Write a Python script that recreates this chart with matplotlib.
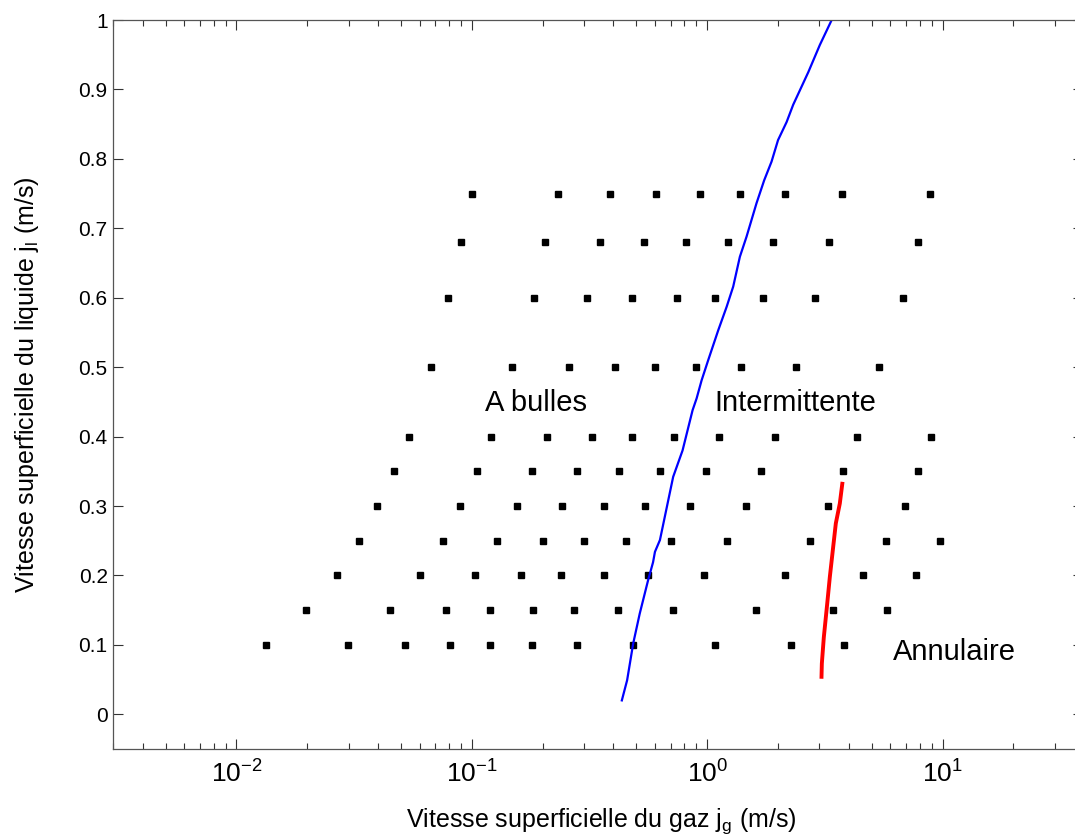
import matplotlib
matplotlib.use("Agg")
import matplotlib.pyplot as plt
import numpy as np

plt.rcParams['font.family'] = ['Liberation Sans', 'DejaVu Sans']
plt.rcParams['mathtext.default'] = 'regular'
plt.rcParams['mathtext.fontset'] = 'custom'
plt.rcParams['mathtext.rm'] = 'Liberation Sans'
plt.rcParams['axes.unicode_minus'] = False

# Experimental points: superficial gas velocity (m/s) for each liquid velocity row
jl_rows = [0.10, 0.15, 0.20, 0.25, 0.30, 0.35, 0.40, 0.50, 0.60, 0.68, 0.75]
jg_010 = [0.0133, 0.0297, 0.0518, 0.0806, 0.1197, 0.180, 0.280, 0.485, 1.075, 2.26, 3.82]
jg_015 = [0.0198, 0.0448, 0.0775, 0.120, 0.1816, 0.2714, 0.419, 0.717, 1.614, 3.43, 5.82]
jg_020 = [0.0267, 0.0603, 0.1033, 0.1615, 0.2395, 0.363, 0.561, 0.971, 2.145, 4.59, 7.71]
jg_025 = [0.0332, 0.0751, 0.1285, 0.201, 0.301, 0.454, 0.703, 1.216, 2.73, 5.75, 9.77]
jg_030 = [0.0397, 0.0892, 0.155, 0.242, 0.363, 0.545, 0.844, 1.455, 3.26, 6.92]
jg_035 = [0.0468, 0.105, 0.181, 0.280, 0.422, 0.630, 0.984, 1.69, 3.76, 7.86]
jg_040 = [0.0541, 0.1205, 0.2084, 0.323, 0.479, 0.724, 1.121, 1.94, 4.33, 8.90]
jg_050 = [0.0668, 0.148, 0.259, 0.404, 0.600, 0.896, 1.392, 2.38, 5.35]
jg_060 = [0.0796, 0.184, 0.309, 0.479, 0.741, 1.075, 1.727, 2.88, 6.81]
jg_068 = [0.0902, 0.204, 0.349, 0.540, 0.815, 1.225, 1.897, 3.28, 7.85]
jg_075 = [0.100, 0.233, 0.387, 0.604, 0.934, 1.38, 2.14, 3.74, 8.83]
jg_rows = [jg_010, jg_015, jg_020, jg_025, jg_030, jg_035, jg_040,
           jg_050, jg_060, jg_068, jg_075]

# Transition bubbly -> intermittent (blue)
blue_jg = [0.434, 0.457, 0.485, 0.517, 0.561, 0.589, 0.600, 0.630, 0.717, 0.786,
           0.867, 0.902, 0.947, 1.01, 1.114, 1.21, 1.29, 1.377, 1.47, 1.62,
           1.746, 1.877, 2.00, 2.175, 2.32, 2.44, 2.69, 3.01, 3.38]
blue_jl = [0.020, 0.049, 0.102, 0.145, 0.193, 0.219, 0.234, 0.251, 0.342, 0.380,
           0.438, 0.455, 0.481, 0.510, 0.553, 0.587, 0.616, 0.659, 0.688, 0.736,
           0.769, 0.796, 0.827, 0.853, 0.878, 0.894, 0.925, 0.964, 1.0]

# Transition intermittent -> annular (red)
red_jg = [3.06, 3.07, 3.13, 3.236, 3.32, 3.43, 3.52, 3.66, 3.75]
red_jl = [0.054, 0.073, 0.111, 0.1595, 0.198, 0.241, 0.275, 0.3036, 0.332]

regions = ["A bulles", "Intermittente", "Annulaire"]
region_x = [0.1135, 1.078, 6.15]
region_y = [0.448, 0.448, 0.089]

yticks = [0, 0.1, 0.2, 0.3, 0.4, 0.5, 0.6, 0.7, 0.8, 0.9, 1]
ytick_labels = ["0", "0.1", "0.2", "0.3", "0.4", "0.5", "0.6", "0.7", "0.8", "0.9", "1"]

W, H = 1075, 840
x0_px, x1_px, ytop_px, ybot_px = 113.3, 1083, 20, 749
fig = plt.figure(figsize=(W / 100, H / 100), dpi=100)
ax = fig.add_axes([x0_px / W, 1 - ybot_px / H, (x1_px - x0_px) / W, (ybot_px - ytop_px) / H])

for jl, jgs in zip(jl_rows, jg_rows):
    ax.plot(jgs, [jl] * len(jgs), linestyle='none', marker='s', ms=5,
            color='black', mec='black')

ax.plot(blue_jg, blue_jl, color='#0000ff', lw=1.6)
ax.plot(red_jg, red_jl, color='#ff0000', lw=2.8)

for t, x, y in zip(regions, region_x, region_y):
    ax.text(x, y, t, fontsize=21, color='black', ha='left', va='center')

ax.set_xscale('log')
ax.set_xlim(0.003, 39.5)
ax.set_ylim(-0.05, 1)
ax.set_yticks(yticks)
ax.set_yticklabels(ytick_labels)

ax.tick_params(axis='both', which='both', direction='in', top=True, right=True,
               color='#333333')
ax.tick_params(axis='both', which='major', length=7, width=0.8)
ax.tick_params(axis='y', labelsize=15, pad=4)
ax.tick_params(axis='x', labelsize=19, pad=8)
ax.tick_params(axis='x', which='minor', length=4, width=0.8)
for s in ax.spines.values():
    s.set_color('#555555')
    s.set_linewidth(0.9)

ax.set_xlabel(r"Vitesse superficielle du gaz j$_{g}$ (m/s)", fontsize=18)
ax.set_ylabel(r"Vitesse superficielle du liquide j$_{l}$ (m/s)", fontsize=18)
ax.xaxis.set_label_coords((601 - x0_px) / (x1_px - x0_px), (ybot_px - 806) / (ybot_px - ytop_px))
ax.yaxis.set_label_coords((41 - x0_px) / (x1_px - x0_px), 0.5)

fig.savefig("out.png", dpi=100)
